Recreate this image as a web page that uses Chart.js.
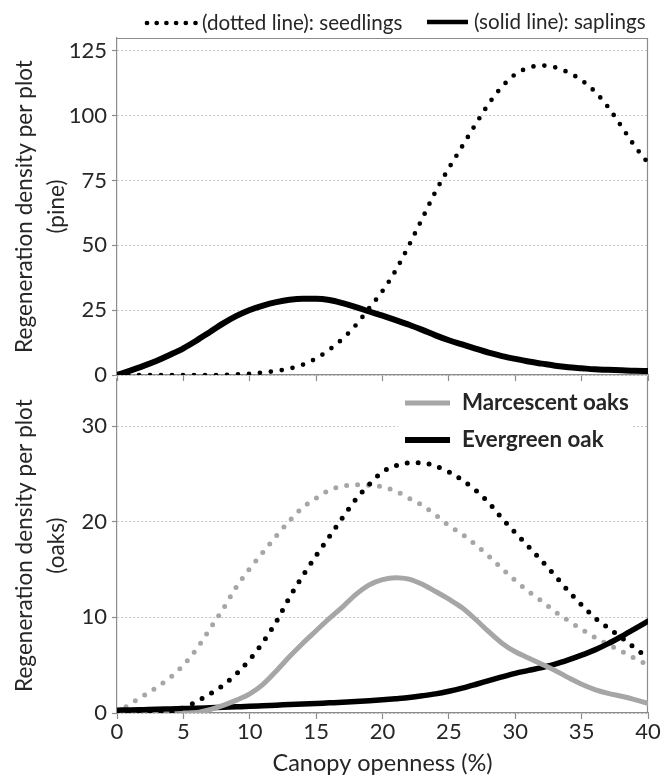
<!DOCTYPE html>
<html>
<head>
<meta charset="utf-8">
<script src="https://cdn.jsdelivr.net/npm/chart.js@4.4.1/dist/chart.umd.min.js"></script>
<style>
  html, body { margin: 0; padding: 0; background: #fff; }
  #wrap { position: relative; width: 664px; height: 783px; }
  canvas { position: absolute; left: 0; }
  #pine { top: 0; }
  #oaks { top: 360px; }
</style>
</head>
<body>
<div id="wrap">
  <canvas id="pine" width="664" height="395"></canvas>
  <canvas id="oaks" width="664" height="423"></canvas>
</div>
<script>
// Canopy openness (%) at which each fitted curve is sampled
const canopy = [0,1,2,3,4,5,6,7,8,9,10,11,12,13,14,15,16,17,18,19,20,
                21,22,23,24,25,26,27,28,29,30,31,32,33,34,35,36,37,38,39,40];

// Pine regeneration density per plot
const pineSeedlings = [0,0,0,0,0,0,0,0,0,0.2,0.5,1.0,1.6,2.5,4.0,6.4,9.8,14.0,19.3,25.8,32.4,
                       40.4,50.1,60.4,70.8,79.8,88.2,96.6,104.6,111.2,116.0,118.5,119.4,118.7,116.7,113.7,109.3,103.3,95.9,88.3,81.8];
const pineSaplings  = [0,1.7,3.5,5.5,7.8,10.3,13.3,16.6,19.9,22.8,25.1,26.8,28.1,29.0,29.4,29.4,28.9,27.7,26.2,24.5,22.9,
                       21.2,19.4,17.4,15.3,13.4,11.8,10.2,8.6,7.3,6.2,5.2,4.4,3.6,3.0,2.6,2.2,2.0,1.8,1.6,1.5];

// Oak regeneration density per plot
const marcescentSeedlings = [0,0.95,1.8,2.7,3.7,5.0,6.7,8.8,10.9,13.2,15.1,16.8,18.5,20.1,21.5,22.45,23.3,23.7,23.85,23.8,23.65,
                             23.2,22.45,21.7,20.7,19.6,18.7,17.6,16.4,15.1,13.85,12.7,11.7,10.6,9.65,8.75,7.9,7.15,6.45,5.7,5.05];
const evergreenSeedlings  = [0.05,0.05,0.05,0.05,0.1,0.55,1.2,2.0,2.9,4.1,5.6,7.4,9.55,12.1,14.35,16.45,18.45,20.45,22.35,23.9,25.2,
                             25.85,26.15,26.15,25.8,25.2,24.35,23.3,22.0,20.35,18.85,17.4,15.9,14.35,12.75,11.3,9.95,8.9,7.9,6.8,5.8];
const marcescentSaplings  = [null,null,null,null,null,0,0.05,0.35,0.8,1.35,2.0,3.0,4.4,5.9,7.3,8.6,9.9,11.1,12.4,13.4,13.95,
                             14.15,14.0,13.45,12.7,11.9,11.0,9.8,8.5,7.3,6.4,5.75,5.1,4.45,3.7,3.0,2.45,2.05,1.75,1.4,1.0];
const evergreenSaplings   = [0.3,0.32,0.35,0.38,0.42,0.46,0.5,0.55,0.6,0.65,0.7,0.76,0.82,0.88,0.94,1.0,1.06,1.12,1.2,1.28,1.38,
                             1.5,1.63,1.8,2.0,2.27,2.6,2.98,3.38,3.78,4.15,4.45,4.75,5.1,5.55,6.05,6.6,7.25,8.0,8.8,9.6];

// Axis ticks
const canopyTicks = [0,5,10,15,20,25,30,35,40];
const pineTicks = [0,25,50,75,100,125];
const oakTicks = [0,10,20,30];

// Legend and axis texts
const pineLegendLabels = ['(dotted line): seedlings', '(solid line): saplings'];
const oakLegendLabels = ['Marcescent oaks', 'Evergreen oak'];
const pineAxisTitle = ['Regeneration density per plot', '(pine)'];
const oakAxisTitle = ['Regeneration density per plot', '(oaks)'];
const canopyAxisTitle = 'Canopy openness (%)';

const GREY = '#a6a6a6';
const AXIS = '#8c8c8c';
const TEXT = '#262626';
const FONT = 'Lato, "Open Sans", sans-serif';

const toPoints = vals => canopy.map((x, i) => ({ x, y: vals[i] }));
const fixTicks = list => scale => { scale.ticks = list.map(v => ({ value: v })); };

function dotted(label, vals, color, width) {
  return { label, data: toPoints(vals), borderColor: color, borderWidth: width,
           borderDash: [0, 11], borderCapStyle: 'round', pointRadius: 0,
           cubicInterpolationMode: 'monotone', fill: false };
}
function solid(label, vals, color, width) {
  return { label, data: toPoints(vals), borderColor: color, borderWidth: width,
           borderCapStyle: 'round', pointRadius: 0, cubicInterpolationMode: 'monotone', fill: false };
}

// Frame lines around the plotting area and hand-placed legends
const panelDecor = {
  id: 'panelDecor',
  beforeDatasetsDraw(chart, args, opts) {
    const { ctx, chartArea: a } = chart;
    ctx.save();
    ctx.strokeStyle = AXIS;
    ctx.lineWidth = 1.2;
    ctx.beginPath();
    if (opts.top) { ctx.moveTo(a.left, a.top + 0.5); ctx.lineTo(a.right, a.top + 0.5); }
    ctx.moveTo(a.right - 0.5, opts.top ? a.top : a.top - 2);
    ctx.lineTo(a.right - 0.5, a.bottom);
    ctx.stroke();
    ctx.restore();
  },
  afterDatasetsDraw(chart, args, opts) {
    const ctx = chart.ctx;
    ctx.save();
    if (opts.box) {
      ctx.fillStyle = '#fff';
      ctx.fillRect(opts.box[0], opts.box[1], opts.box[2], opts.box[3]);
    }
    ctx.font = opts.font;
    ctx.textBaseline = 'middle';
    ctx.textAlign = 'left';
    opts.items.forEach(it => {
      ctx.beginPath();
      ctx.strokeStyle = it.color;
      ctx.lineWidth = it.width;
      ctx.lineCap = it.dash ? 'round' : 'butt';
      ctx.setLineDash(it.dash || []);
      ctx.moveTo(it.x, it.y);
      ctx.lineTo(it.x + it.len, it.y);
      ctx.stroke();
      ctx.setLineDash([]);
      ctx.fillStyle = TEXT;
      ctx.fillText(it.text, it.tx, it.y);
    });
    ctx.restore();
  }
};

function yScale(max, ticks, title) {
  return {
    min: 0, max,
    afterBuildTicks: fixTicks(ticks),
    afterFit: s => { s.width = 117; },
    ticks: { font: { family: FONT, size: 22 }, color: TEXT, padding: 5 },
    grid: { color: '#c6c6c6', lineWidth: 1, tickLength: 5, tickColor: AXIS, tickWidth: 1.2 },
    border: { color: AXIS, width: 1.2, dash: [2, 2] },
    title: { display: true, text: title, color: TEXT,
             font: { family: FONT, size: 22.6, lineHeight: 1.42 }, padding: { top: 9, bottom: 0 } }
  };
}

new Chart(document.getElementById('pine'), {
  type: 'line',
  data: { datasets: [
    solid('Pine saplings', pineSaplings, '#000', 6),
    dotted('Pine seedlings', pineSeedlings, '#000', 4.7)
  ] },
  options: {
    responsive: false, animation: false, devicePixelRatio: 1,
    layout: { padding: { top: 38, right: 16, left: 0, bottom: 0 } },
    plugins: {
      legend: { display: false }, tooltip: { enabled: false },
      panelDecor: {
        top: true,
        font: '20.6px ' + FONT,
        items: [
          { x: 147, len: 48.5, y: 23, color: '#000', width: 4.7, dash: [0, 9.7], text: pineLegendLabels[0], tx: 202 },
          { x: 427, len: 41, y: 22, color: '#000', width: 4.5, text: pineLegendLabels[1], tx: 474 }
        ]
      }
    },
    scales: {
      x: {
        type: 'linear', min: 0, max: 40,
        afterBuildTicks: fixTicks(canopyTicks),
        afterFit: s => { s.height = 20; },
        ticks: { display: false },
        grid: { drawOnChartArea: false, tickLength: 6, tickColor: AXIS, tickWidth: 1.2 },
        border: { color: AXIS, width: 1.2 }
      },
      y: yScale(130, pineTicks, pineAxisTitle)
    }
  },
  plugins: [panelDecor]
});

new Chart(document.getElementById('oaks'), {
  type: 'line',
  data: { datasets: [
    solid('Marcescent oaks saplings', marcescentSaplings, GREY, 5),
    solid('Evergreen oak saplings', evergreenSaplings, '#000', 5.5),
    dotted('Evergreen oak seedlings', evergreenSeedlings, '#000', 5),
    dotted('Marcescent oaks seedlings', marcescentSeedlings, GREY, 5)
  ] },
  options: {
    responsive: false, animation: false, devicePixelRatio: 1,
    layout: { padding: { top: 16, right: 16, left: 0, bottom: 0 } },
    plugins: {
      legend: { display: false }, tooltip: { enabled: false },
      panelDecor: {
        top: false,
        box: [398, 26, 234, 72],
        font: 'bold 22.3px ' + FONT,
        items: [
          { x: 405, len: 45, y: 43, color: GREY, width: 5, text: oakLegendLabels[0], tx: 462 },
          { x: 405, len: 45, y: 80, color: '#000', width: 6, text: oakLegendLabels[1], tx: 462 }
        ]
      }
    },
    scales: {
      x: {
        type: 'linear', min: 0, max: 40,
        afterBuildTicks: fixTicks(canopyTicks),
        afterFit: s => { s.height = 70; },
        ticks: { font: { family: FONT, size: 22 }, color: TEXT, padding: 0, maxRotation: 0, autoSkip: false },
        grid: { drawOnChartArea: false, tickLength: 6, tickColor: AXIS, tickWidth: 1.2 },
        border: { color: AXIS, width: 1.2 },
        title: { display: true, text: canopyAxisTitle, color: TEXT,
                 font: { family: FONT, size: 23.5 }, padding: { top: 0, bottom: 5 } }
      },
      y: yScale(35, oakTicks, oakAxisTitle)
    }
  },
  plugins: [panelDecor]
});
</script>
</body>
</html>
